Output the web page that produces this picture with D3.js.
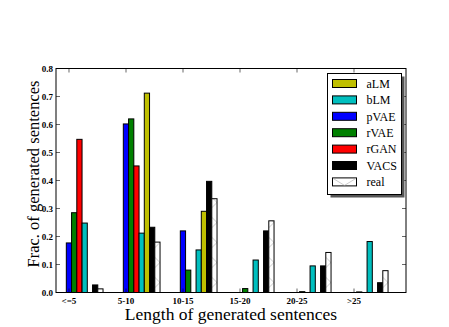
<!DOCTYPE html>
<html>
<head>
<meta charset="utf-8">
<script src="https://cdn.jsdelivr.net/npm/d3@7"></script>
<style>
  body { margin: 0; background: #fff; }
  svg { display: block; }
  text { font-family: "Liberation Serif", "DejaVu Serif", serif; }
</style>
</head>
<body>
<div id="chart"></div>
<script>
// values
const categories = ['<=5', '5-10', '10-15', '15-20', '20-25', '>25'];
const pVAE = [0.177, 0.602, 0.220, 0, 0, 0];
const rVAE = [0.285, 0.620, 0.080, 0.014, 0.003, 0.002];
const rGAN = [0.547, 0.452, 0, 0, 0, 0];
const bLM = [0.248, 0.212, 0.152, 0.116, 0.095, 0.182];
const aLM = [0, 0.712, 0.290, 0, 0, 0];
const VACS = [0.027, 0.233, 0.397, 0.220, 0.095, 0.035];
const real = [0.013, 0.180, 0.335, 0.256, 0.143, 0.078];
const yTicks = [0, 0.1, 0.2, 0.3, 0.4, 0.5, 0.6, 0.7, 0.8];

// bar order within a group
const series = [
    { name: 'pVAE', values: pVAE, color: '#0000ff' },
    { name: 'rVAE', values: rVAE, color: '#008000' },
    { name: 'rGAN', values: rGAN, color: '#ff0000' },
    { name: 'bLM', values: bLM, color: '#00bfbf' },
    { name: 'aLM', values: aLM, color: '#bfbf00' },
    { name: 'VACS', values: VACS, color: '#000000' },
    { name: 'real', values: real, color: '#ffffff', hatch: true }
];
// legend order
const legendOrder = ['aLM', 'bLM', 'pVAE', 'rVAE', 'rGAN', 'VACS', 'real'];

const W = 449, H = 327;
const margin = { left: 56, right: 43, top: 68.5, bottom: 34 };
const barW = 0.092;

const svg = d3.select('#chart').append('svg')
    .attr('width', W)
    .attr('height', H);

const x = d3.scaleLinear()
    .domain([-0.228, 5.912])
    .range([margin.left, W - margin.right]);

const y = d3.scaleLinear()
    .domain([0, 0.8])
    .range([H - margin.bottom - 0.5, margin.top]);

const defs = svg.append('defs');

// bars
const groups = svg.append('g').attr('class', 'bars');
series.forEach((s, k) => {
    groups.selectAll(null)
        .data(s.values)
        .enter()
        .append('rect')
        .attr('x', (d, i) => x(i - 0.047 + k * barW))
        .attr('y', d => y(d))
        .attr('width', x(barW) - x(0))
        .attr('height', d => y(0) - y(d))
        .attr('fill', s.color)
        .attr('stroke', '#000')
        .attr('stroke-width', 1)
        .each(function (d, i) {
            if (!s.hatch) return;
            const right = x(i - 0.047 + (k + 1) * barW);
            const id = 'hatch' + i;
            const p = defs.append('pattern')
                .attr('id', id)
                .attr('patternUnits', 'userSpaceOnUse')
                .attr('width', 20)
                .attr('height', 20)
                .attr('x', right - 10)
                .attr('y', y(0));
            p.append('rect').attr('width', 20).attr('height', 20).attr('fill', '#fff');
            p.append('path')
                .attr('d', 'M0,0L20,20M0,20L20,0')
                .attr('stroke', '#aaa')
                .attr('stroke-width', 0.6);
            d3.select(this).attr('fill', 'url(#' + id + ')');
        });
});

// frame
const x0 = x.range()[0], x1 = x.range()[1];
const y0 = y.range()[0], y1 = y.range()[1];
svg.append('rect')
    .attr('x', x0)
    .attr('y', y1)
    .attr('width', x1 - x0)
    .attr('height', y0 - y1)
    .attr('fill', 'none')
    .attr('stroke', '#000')
    .attr('stroke-width', 1);

// ticks (inside, all four sides)
const tickLen = 4;
const catIdx = d3.range(categories.length);
svg.append('g').selectAll('line')
    .data(catIdx)
    .enter()
    .append('line')
    .attr('x1', d => x(d)).attr('x2', d => x(d))
    .attr('y1', y0).attr('y2', y0 - tickLen)
    .attr('stroke', '#000').attr('stroke-width', 0.6);
svg.append('g').selectAll('line')
    .data(catIdx)
    .enter()
    .append('line')
    .attr('x1', d => x(d)).attr('x2', d => x(d))
    .attr('y1', y1).attr('y2', y1 + tickLen)
    .attr('stroke', '#000').attr('stroke-width', 0.6);
svg.append('g').selectAll('line')
    .data(yTicks)
    .enter()
    .append('line')
    .attr('x1', x0).attr('x2', x0 + tickLen)
    .attr('y1', d => y(d)).attr('y2', d => y(d))
    .attr('stroke', '#000').attr('stroke-width', 0.6);
svg.append('g').selectAll('line')
    .data(yTicks)
    .enter()
    .append('line')
    .attr('x1', x1).attr('x2', x1 - tickLen)
    .attr('y1', d => y(d)).attr('y2', d => y(d))
    .attr('stroke', '#000').attr('stroke-width', 0.6);

// tick labels
svg.append('g').selectAll('text')
    .data(yTicks)
    .enter()
    .append('text')
    .attr('x', x0 - 3)
    .attr('y', d => y(d))
    .attr('dy', '0.35em')
    .attr('text-anchor', 'end')
    .attr('font-size', 9)
    .attr('font-weight', 'bold')
    .text(d => d.toFixed(1));

svg.append('g').selectAll('text')
    .data(categories)
    .enter()
    .append('text')
    .attr('x', (d, i) => x(i))
    .attr('y', y0 + 11)
    .attr('text-anchor', 'middle')
    .attr('font-size', 9)
    .attr('font-weight', 'bold')
    .text(d => d);

// axis titles
svg.append('text')
    .attr('x', (x0 + x1) / 2)
    .attr('y', 320)
    .attr('text-anchor', 'middle')
    .attr('font-size', 17.5)
    .text('Length of generated sentences');

svg.append('text')
    .attr('transform', 'translate(39,174) rotate(-90)')
    .attr('text-anchor', 'middle')
    .attr('font-size', 16.5)
    .text('Frac. of generated sentences');

// legend
const lg = svg.append('g').attr('transform', 'translate(327.5,73.5)');
const lgW = 74, lgH = 121;
lg.append('rect')
    .attr('x', 3).attr('y', 3)
    .attr('width', lgW).attr('height', lgH)
    .attr('fill', '#555');
lg.append('rect')
    .attr('width', lgW).attr('height', lgH)
    .attr('fill', '#fff')
    .attr('stroke', '#000')
    .attr('stroke-width', 1);

const byName = {};
series.forEach(s => (byName[s.name] = s));

const rows = lg.selectAll('g.row')
    .data(legendOrder)
    .enter()
    .append('g')
    .attr('class', 'row')
    .attr('transform', (d, i) => 'translate(5,' + (10 + i * 16.4) + ')');

rows.append('rect')
    .attr('y', -4)
    .attr('width', 24)
    .attr('height', 8)
    .attr('fill', d => byName[d].color)
    .attr('stroke', '#000')
    .attr('stroke-width', 1);

rows.filter(d => byName[d].hatch)
    .append('path')
    .attr('d', 'M0.5,-3.5L12,3.5L23.5,-3.5')
    .attr('fill', 'none')
    .attr('stroke', '#aaa')
    .attr('stroke-width', 0.6);

rows.append('text')
    .attr('x', 34)
    .attr('dy', '0.35em')
    .attr('font-size', 12)
    .text(d => d);
</script>
</body>
</html>
